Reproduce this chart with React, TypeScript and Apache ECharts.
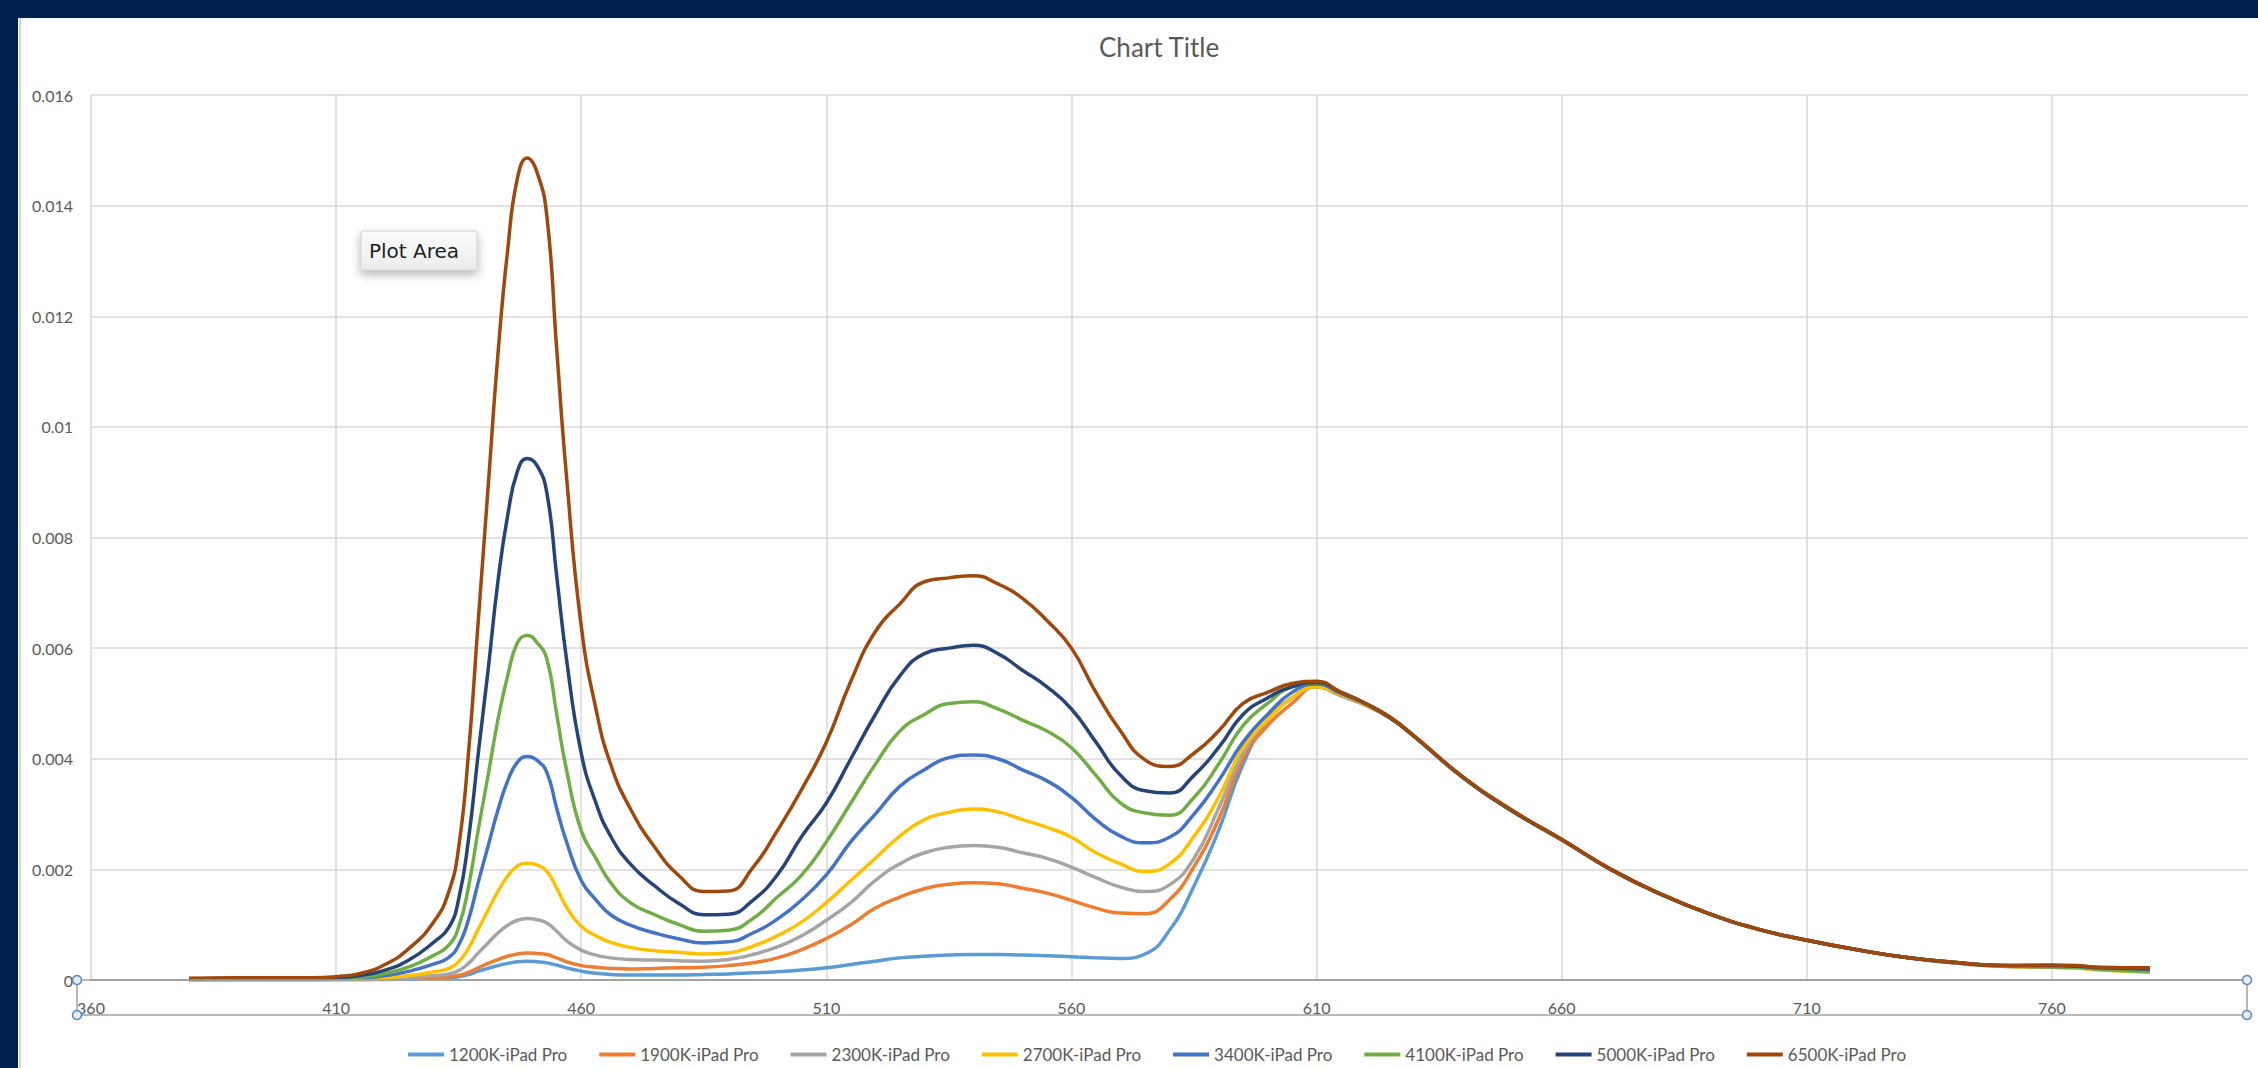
import React, { useEffect, useRef } from "react";
import * as echarts from "echarts";

// Wavelength samples (nm), shared by every series
const wavelengths = [
  380, 390, 400, 405, 410, 415, 420, 425, 430,
  433, 435, 437, 439, 441, 443, 445, 447, 449,
  451, 453, 455, 457, 460, 463, 466, 470, 475, 480,
  485, 490, 495, 500, 505, 510, 515, 520, 525, 530,
  535, 540, 545, 550, 555, 560, 565, 570, 575, 580,
  585, 590, 595, 600, 605, 610, 615, 620, 625, 630,
  640, 650, 660, 670, 680, 690, 700, 710, 720, 730,
  740, 750, 760, 765, 770, 780,
];

const s1200K = [
  0.00001, 0.00001, 0.00001, 0.00001, 0.00001, 0.00001, 0.00001, 0.00002, 0.00003,
  0.00004, 0.00006, 0.0001, 0.00016, 0.00021, 0.00026, 0.0003, 0.00033, 0.00034,
  0.00033, 0.00031, 0.00027, 0.00022, 0.00016, 0.00012, 0.0001, 0.00009, 0.00009, 0.00009,
  0.0001, 0.00011, 0.00013, 0.00015, 0.00018, 0.00022, 0.00028, 0.00034, 0.0004, 0.00043,
  0.00045, 0.00046, 0.00046, 0.00045, 0.00044, 0.00042, 0.0004, 0.00039, 0.00047, 0.0009,
  0.0017, 0.0027, 0.0039, 0.0047, 0.0051, 0.0053, 0.00514, 0.00497, 0.00473, 0.0044,
  0.00365, 0.00305, 0.00253, 0.002, 0.00156, 0.0012, 0.00092, 0.00072, 0.00055, 0.00041,
  0.00031, 0.00025, 0.00023, 0.00022, 0.00019, 0.00016,
];

const s1900K = [
  0.00001, 0.00001, 0.00001, 0.00001, 0.00001, 0.00001, 0.00002, 0.00003, 0.00004,
  0.00006, 0.00008, 0.00014, 0.00022, 0.0003, 0.00037, 0.00043, 0.00047, 0.00049,
  0.00048, 0.00046, 0.0004, 0.00033, 0.00026, 0.00023, 0.00021, 0.0002, 0.00021, 0.00022,
  0.00023, 0.00026, 0.00031, 0.0004, 0.00055, 0.00075, 0.001, 0.0013, 0.0015, 0.00165,
  0.00173, 0.00176, 0.00174, 0.00166, 0.00157, 0.00144, 0.0013, 0.00121, 0.0012, 0.00145,
  0.00205, 0.0029, 0.004, 0.0046, 0.005, 0.0053, 0.00514, 0.00497, 0.00474, 0.0044,
  0.00365, 0.00305, 0.00253, 0.002, 0.00156, 0.0012, 0.00092, 0.00072, 0.00055, 0.00041,
  0.00031, 0.00025, 0.00024, 0.00023, 0.0002, 0.00018,
];

const s2300K = [
  0.00001, 0.00001, 0.00001, 0.00001, 0.00001, 0.00001, 0.00002, 0.00004, 0.00008,
  0.00011, 0.00017, 0.0003, 0.00049, 0.00067, 0.00085, 0.00099, 0.00108, 0.00111,
  0.00109, 0.00103, 0.00088, 0.00071, 0.00054, 0.00045, 0.0004, 0.00037, 0.00036, 0.00035,
  0.00034, 0.00037, 0.00046, 0.0006, 0.0008, 0.00108, 0.0014, 0.0018, 0.0021, 0.0023,
  0.0024, 0.00243, 0.0024, 0.0023, 0.0022, 0.00204, 0.00185, 0.00168, 0.0016, 0.00172,
  0.0022, 0.0031, 0.0041, 0.0047, 0.0051, 0.0053, 0.00515, 0.00498, 0.00474, 0.0044,
  0.00365, 0.00305, 0.00254, 0.002, 0.00156, 0.0012, 0.00092, 0.00072, 0.00055, 0.00041,
  0.00031, 0.00025, 0.00024, 0.00022, 0.00019, 0.00016,
];

const s2700K = [
  0.00001, 0.00001, 0.00001, 0.00001, 0.00001, 0.00002, 0.00004, 0.00008, 0.00015,
  0.00021, 0.00033, 0.00057, 0.00092, 0.00126, 0.0016, 0.00188, 0.00206, 0.00211,
  0.00208, 0.00196, 0.00166, 0.00132, 0.00097, 0.0008, 0.00068, 0.00059, 0.00053, 0.0005,
  0.00047, 0.00049, 0.00061, 0.0008, 0.00105, 0.0014, 0.0018, 0.0022, 0.0026, 0.0029,
  0.00303, 0.00309, 0.00304, 0.0029, 0.00276, 0.00258, 0.0023, 0.0021, 0.00196, 0.0021,
  0.0026, 0.0033, 0.0042, 0.0047, 0.0051, 0.0053, 0.00516, 0.00498, 0.00474, 0.0044,
  0.00365, 0.00305, 0.00254, 0.002, 0.00156, 0.0012, 0.00092, 0.00072, 0.00055, 0.00041,
  0.00031, 0.00025, 0.00023, 0.00022, 0.00018, 0.00014,
];

const s3400K = [
  0.00001, 0.00001, 0.00001, 0.00001, 0.00002, 0.00003, 0.00008, 0.00016, 0.00029,
  0.00041, 0.00063, 0.00109, 0.00177, 0.00242, 0.00307, 0.0036, 0.00394, 0.00404,
  0.00397, 0.00375, 0.0031, 0.0025, 0.0018, 0.00145, 0.00118, 0.00099, 0.00085, 0.00074,
  0.00067, 0.00069, 0.00085, 0.0011, 0.00145, 0.0019, 0.0025, 0.003, 0.0035, 0.0038,
  0.00402, 0.00407, 0.004, 0.0038, 0.0036, 0.0033, 0.0029, 0.0026, 0.00248, 0.00258,
  0.003, 0.0036, 0.0043, 0.0048, 0.0052, 0.00535, 0.00518, 0.00499, 0.00475, 0.0044,
  0.00365, 0.00306, 0.00254, 0.002, 0.00156, 0.0012, 0.00092, 0.00072, 0.00055, 0.00041,
  0.00031, 0.00026, 0.00024, 0.00023, 0.0002, 0.00017,
];

const s4100K = [
  0.00001, 0.00002, 0.00002, 0.00002, 0.00003, 0.00005, 0.00012, 0.00024, 0.00045,
  0.00063, 0.00096, 0.00168, 0.00272, 0.0037, 0.0047, 0.0055, 0.0061, 0.00623,
  0.0061, 0.0058, 0.0048, 0.0038, 0.0027, 0.0022, 0.00176, 0.0014, 0.00118, 0.001,
  0.00088, 0.0009, 0.00111, 0.0015, 0.0019, 0.0025, 0.0032, 0.0039, 0.0045, 0.0048,
  0.005, 0.00503, 0.0049, 0.0047, 0.0045, 0.0042, 0.0037, 0.0032, 0.00302, 0.00298,
  0.0033, 0.0039, 0.0046, 0.005, 0.0053, 0.00537, 0.0052, 0.005, 0.00475, 0.0044,
  0.00366, 0.00306, 0.00254, 0.002, 0.00156, 0.0012, 0.00092, 0.00072, 0.00055, 0.00041,
  0.00032, 0.00026, 0.00024, 0.00023, 0.00019, 0.00015,
];

const s5000K = [
  0.00002, 0.00003, 0.00003, 0.00003, 0.00004, 0.00008, 0.00018, 0.00037, 0.00069,
  0.00095, 0.00146, 0.00254, 0.0041, 0.0056, 0.0072, 0.0084, 0.0092, 0.00943,
  0.0093, 0.0088, 0.0073, 0.0058, 0.0041, 0.0032, 0.0026, 0.0021, 0.0017, 0.00138,
  0.00118, 0.00119, 0.00144, 0.0019, 0.0026, 0.0032, 0.004, 0.0048, 0.0055, 0.0059,
  0.006, 0.00605, 0.0059, 0.0056, 0.0053, 0.0049, 0.0043, 0.0037, 0.00342, 0.00338,
  0.0037, 0.0042, 0.0048, 0.0051, 0.0053, 0.00538, 0.0052, 0.005, 0.00474, 0.0044,
  0.00366, 0.00305, 0.00254, 0.002, 0.00156, 0.0012, 0.00092, 0.00072, 0.00055, 0.00041,
  0.00032, 0.00026, 0.00026, 0.00025, 0.00022, 0.0002,
];

const s6500K = [
  0.00003, 0.00004, 0.00004, 0.00004, 0.00006, 0.00012, 0.00028, 0.00058, 0.00106,
  0.0016, 0.0024, 0.0041, 0.0065, 0.0089, 0.0113, 0.0132, 0.0145, 0.01486,
  0.0146, 0.0138, 0.0114, 0.0091, 0.0064, 0.0049, 0.0039, 0.0031, 0.0024, 0.00188,
  0.0016, 0.00161, 0.00203, 0.0027, 0.00345, 0.0043, 0.0054, 0.0063, 0.0068, 0.0072,
  0.00727, 0.00731, 0.00716, 0.0069, 0.0065, 0.006, 0.0052, 0.0045, 0.00398, 0.00386,
  0.0041, 0.0045, 0.005, 0.0052, 0.00536, 0.0054, 0.0052, 0.005, 0.00475, 0.0044,
  0.00366, 0.00306, 0.00254, 0.002, 0.00156, 0.0012, 0.00092, 0.00072, 0.00055, 0.00041,
  0.00032, 0.00026, 0.00027, 0.00026, 0.00023, 0.00022,
];

const seriesNames = [
  "1200K-iPad Pro",
  "1900K-iPad Pro",
  "2300K-iPad Pro",
  "2700K-iPad Pro",
  "3400K-iPad Pro",
  "4100K-iPad Pro",
  "5000K-iPad Pro",
  "6500K-iPad Pro",
];
const seriesValues = [s1200K, s1900K, s2300K, s2700K, s3400K, s4100K, s5000K, s6500K];
const seriesColors = [
  "#5B9BD5",
  "#ED7D31",
  "#A5A5A5",
  "#FFC000",
  "#4472C4",
  "#70AD47",
  "#264478",
  "#9E480E",
];

// Axis settings
const xMin = 360;
const xMax = 800;
const xLabelStep = 50;
const yMin = 0;
const yMax = 0.016;
const yStep = 0.002;

const TEXT = "#595959";
const GRID = "#d9d9d9";
const FONT = "Lato, 'Liberation Sans', sans-serif";

export default function App() {
  const ref = useRef<HTMLDivElement>(null);

  useEffect(() => {
    if (!ref.current) return;
    const chart = echarts.init(ref.current, undefined, { renderer: "svg" });

    // x axis steps by 10 so ticks start at 360; only every 5th one carries a label and a grid line
    const xSplitColors = [GRID, "rgba(0,0,0,0)", "rgba(0,0,0,0)", "rgba(0,0,0,0)", "rgba(0,0,0,0)"];

    const handle = (cx: number, cy: number) => ({
      type: "circle",
      shape: { cx, cy, r: 4.5 },
      style: { fill: "#e3edf8", stroke: "#5b85c0", lineWidth: 1.5 },
      z: 100,
    });

    chart.setOption({
      animation: false,
      backgroundColor: "#ffffff",
      title: {
        text: "Chart Title",
        left: 1076,
        top: 11,
        textStyle: { fontFamily: FONT, fontSize: 26, fontWeight: "normal", color: TEXT },
      },
      legend: {
        data: seriesNames,
        left: 385,
        top: 1023,
        icon: "rect",
        itemWidth: 36,
        itemHeight: 4,
        itemGap: 32,
        textStyle: { fontFamily: FONT, fontSize: 17, color: TEXT },
      },
      grid: { left: 73, top: 77, right: 10, bottom: 88, containLabel: false },
      xAxis: {
        type: "value",
        min: xMin,
        max: xMax,
        interval: 10,
        axisLine: { show: true, lineStyle: { color: "#a3a3a3", width: 2 } },
        axisTick: { show: false },
        axisLabel: {
          margin: 19,
          color: TEXT,
          fontFamily: FONT,
          fontSize: 16,
          formatter: (v: number) => ((v - xMin) % xLabelStep === 0 ? String(v) : ""),
        },
        splitLine: { show: true, lineStyle: { color: xSplitColors, width: 1.5 } },
      },
      yAxis: {
        type: "value",
        min: yMin,
        max: yMax,
        interval: yStep,
        axisLine: { show: false },
        axisTick: { show: false },
        axisLabel: { margin: 18, color: TEXT, fontFamily: FONT, fontSize: 16 },
        splitLine: { show: true, lineStyle: { color: GRID, width: 1.5 } },
      },
      series: seriesNames.map((name, i) => ({
        name,
        type: "line",
        data: wavelengths.map((w, j) => [w, seriesValues[i][j]]),
        smooth: 0.5,
        symbol: "none",
        showSymbol: false,
        lineStyle: { width: 3.5, color: seriesColors[i] },
        itemStyle: { color: seriesColors[i] },
      })),
      graphic: [
        // chart-area outline on the left
        {
          type: "line",
          shape: { x1: 2, y1: 0, x2: 2, y2: 1050 },
          style: { stroke: "#c4c4c4", lineWidth: 1.5 },
        },
        // selected-axis frame around the category labels
        {
          type: "rect",
          shape: { x: 59, y: 962, width: 2170, height: 35 },
          style: { fill: "none", stroke: "#a3a3a3", lineWidth: 1.5 },
          z: 99,
        },
        handle(59, 962),
        handle(59, 997),
        handle(2229, 962),
        handle(2229, 997),
        // hover label over the plot
        {
          type: "group",
          x: 343,
          y: 213,
          z: 110,
          children: [
            {
              type: "rect",
              shape: { x: 0, y: 0, width: 116, height: 39, r: 2 },
              style: {
                fill: new echarts.graphic.LinearGradient(0, 0, 0, 1, [
                  { offset: 0, color: "#fbfbfb" },
                  { offset: 1, color: "#ececec" },
                ]),
                stroke: "#cfcfcf",
                lineWidth: 1,
                shadowBlur: 10,
                shadowOffsetY: 4,
                shadowColor: "rgba(0,0,0,0.3)",
              },
            },
            {
              type: "text",
              x: 8,
              y: 20,
              style: {
                text: "Plot Area",
                fontFamily: "'DejaVu Sans', sans-serif",
                fontSize: 20,
                fill: "#1e1e1e",
                verticalAlign: "middle",
                align: "left",
              },
            },
          ],
        },
      ],
    });

    return () => chart.dispose();
  }, []);

  return (
    <div style={{ position: "fixed", left: 0, top: 0, width: 2258, height: 1068, background: "#00214f" }}>
      <div ref={ref} style={{ position: "absolute", left: 18, top: 18, width: 2240, height: 1050 }} />
    </div>
  );
}
